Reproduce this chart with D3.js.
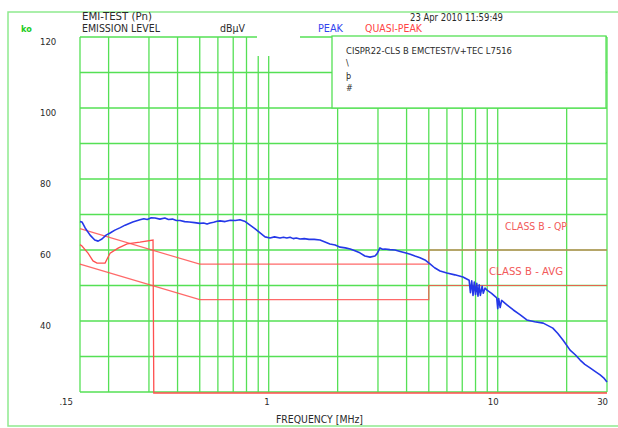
<!DOCTYPE html>
<html>
<head>
<meta charset="utf-8">
<script src="https://cdn.jsdelivr.net/npm/d3@7"></script>
<style>
  html, body { margin: 0; padding: 0; background: #fff; }
  svg { display: block; }
  text { font-family: 'Liberation Sans Narrow', 'DejaVu Sans Condensed', 'Liberation Sans', sans-serif; font-size: 10px; fill: #2a2a2a; }
</style>
</head>
<body>
<svg id="chart" width="618" height="428"></svg>
<script>
// Frequency axis (MHz) and level axis (dBµV)
const xTickValues = [0.15, 1, 10, 30];
const xTickLabels = [".15", "1", "10", "30"];
const yTickValues = [120, 100, 80, 60, 40];
const yTickLabels = ["120", "100", "80", "60", "40"];
const xGridValues = [0.2, 0.3, 0.4, 0.5, 0.6, 0.7, 0.8, 0.9, 1, 2, 3, 4, 5, 6, 7, 8, 9, 10, 20, 30];
const yGridValues = [20, 30, 40, 50, 60, 70, 80, 90, 100, 110, 120];

// Peak detector scan [MHz, dBµV]
const peakFreq = [0.150, 0.153, 0.158, 0.166, 0.174, 0.180, 0.187, 0.195, 0.203, 0.213, 0.225, 0.236, 0.255, 0.274, 0.285, 0.295, 0.307, 0.319, 0.335, 0.352, 0.365, 0.38, 0.395, 0.41, 0.43, 0.45, 0.475, 0.50, 0.52, 0.538, 0.555, 0.575, 0.595, 0.613, 0.645, 0.68, 0.715, 0.749, 0.79, 0.829, 0.87, 0.917, 0.964, 1.013, 1.06, 1.12, 1.16, 1.2, 1.24, 1.28, 1.32, 1.37, 1.43, 1.5, 1.58, 1.675, 1.75, 1.85, 1.95, 2.05, 2.16, 2.27, 2.38, 2.5, 2.63, 2.77, 2.91, 2.97, 3.06, 3.14, 3.22, 3.38, 3.56, 3.75, 3.94, 4.15, 4.35, 4.58, 4.81, 5.06, 5.3, 5.6, 6.0, 6.5, 7.05, 7.5, 7.6, 7.7, 7.8, 7.9, 8.0, 8.1, 8.2, 8.3, 8.4, 8.55, 8.65, 8.8, 8.98, 9.4, 9.9, 10.0, 10.1, 10.25, 10.4, 11.0, 11.7, 12.5, 13.4, 14.5, 15.8, 17.4, 18.3, 19.3, 20.7, 21.8, 22.9, 24.0, 25.3, 26.5, 28.0, 29.0, 30.0];
const peakLevel = [68.0, 67.9, 66.2, 64.2, 62.8, 62.5, 63.1, 64.2, 64.8, 65.6, 66.3, 67.0, 67.9, 68.5, 68.8, 68.6, 69.1, 69.0, 68.7, 69.0, 68.6, 68.7, 68.3, 68.3, 68.0, 67.9, 67.7, 67.5, 67.6, 67.3, 67.6, 67.8, 68.1, 68.2, 68.0, 68.4, 68.3, 68.5, 68.0, 67.0, 66.0, 64.8, 63.7, 63.4, 63.7, 63.4, 63.6, 63.4, 63.6, 63.2, 63.4, 63.1, 63.2, 63.0, 63.0, 62.8, 62.3, 61.7, 61.4, 60.8, 60.6, 60.3, 59.8, 59.2, 58.3, 58.0, 58.3, 58.9, 60.6, 60.2, 60.3, 60.1, 60.0, 59.6, 59.2, 58.8, 58.3, 57.8, 57.2, 56.1, 55.0, 54.1, 53.5, 53.0, 52.4, 51.5, 48.0, 51.3, 47.2, 51.0, 47.5, 50.6, 47.0, 50.2, 47.2, 49.8, 47.8, 49.3, 48.7, 47.8, 46.5, 43.5, 46.3, 43.8, 45.8, 44.5, 43.1, 41.8, 40.3, 39.8, 39.4, 38.0, 36.5, 34.6, 31.8, 30.5, 29.0, 27.8, 26.8, 25.9, 24.8, 24.0, 22.8];

// Quasi-peak measurements; below 20 dBµV is shown on the floor of the scale
const qpFreq = [0.150, 0.153, 0.1626, 0.171, 0.178, 0.193, 0.203, 0.22, 0.241, 0.274, 0.3126, 0.315, 30];
const qpLevel = [61.8, 61.4, 59.4, 57.2, 56.6, 56.6, 59.4, 60.8, 62.0, 62.5, 63.1, 20, 20];

// CISPR 22 class B limits
const qpLimitFreq = [0.15, 0.5, 5, 5, 30];
const qpLimitLevel = [66, 56, 56, 60, 60];
const avgLimitFreq = [0.15, 0.5, 5, 5, 30];
const avgLimitLevel = [56, 46, 46, 50, 50];

const svg = d3.select("#chart");
const x = d3.scaleLog().domain([0.15, 30]).range([80, 607]);
const y = d3.scaleLinear().domain([20, 120]).range([392, 37]);
const green = "#55e055";

// outer frame
svg.append("path").attr("d", "M620,12 H8 V426 H620")
  .attr("fill", "none").attr("stroke", "#8fea8f").attr("stroke-width", 1.5);

// grid
const grid = svg.append("g").attr("stroke", green).attr("stroke-width", 1.3);
grid.selectAll("line.h").data(yGridValues).join("line")
  .attr("x1", x(0.15)).attr("x2", x(30))
  .attr("y1", d => y(d)).attr("y2", d => y(d));
grid.selectAll("line.v").data([0.15].concat(xGridValues)).join("line")
  .attr("x1", d => x(d)).attr("x2", d => x(d))
  .attr("y1", y(120)).attr("y2", y(20));

// blank strip in the top frame line
svg.append("rect").attr("x", 257).attr("y", 30).attr("width", 43).attr("height", 26).attr("fill", "#fff");

// annotation box
svg.append("rect").attr("x", 332).attr("y", y(120) - 1).attr("width", 274).attr("height", y(100) - y(120) + 1)
  .attr("fill", "#fff").attr("stroke", green).attr("stroke-width", 1.3);
svg.append("text").attr("x", 346).attr("y", 54).attr("textLength", 166).attr("lengthAdjust", "spacingAndGlyphs")
  .style("font-size", "9px").text("CISPR22-CLS B EMCTEST/V+TEC L7516");
[["\\", 66], ["þ", 79], ["#", 91]].forEach(([t, yy]) =>
  svg.append("text").attr("x", 346).attr("y", yy).style("font-size", "9px").text(t));

// line generators
const line = (fs, vs) => d3.line().x((d, i) => x(fs[i])).y((d, i) => y(Math.max(20, vs[i])))(fs);

const red = "#ff4f4f";
svg.append("path").attr("d", line(qpLimitFreq, qpLimitLevel))
  .attr("fill", "none").attr("stroke", red).attr("stroke-width", 1.2).attr("stroke-opacity", 0.85);
svg.append("path").attr("d", line(avgLimitFreq, avgLimitLevel))
  .attr("fill", "none").attr("stroke", red).attr("stroke-width", 1.2).attr("stroke-opacity", 0.85);
svg.append("path").attr("d", line(qpFreq, qpLevel)).attr("transform", "translate(0,1)")
  .attr("fill", "none").attr("stroke", red).attr("stroke-width", 1.3);

svg.append("path").attr("d", line(peakFreq, peakLevel))
  .attr("fill", "none").attr("stroke", "#2438e8").attr("stroke-width", 1.6).attr("stroke-linejoin", "round");

// limit labels
svg.append("text").attr("x", 505).attr("y", 230).attr("textLength", 62).attr("lengthAdjust", "spacingAndGlyphs")
  .style("fill", "#f25a5a").text("CLASS B - QP");
svg.append("text").attr("x", 489).attr("y", 275).attr("textLength", 74).attr("lengthAdjust", "spacingAndGlyphs")
  .style("fill", "#f25a5a").text("CLASS B - AVG");

// level axis labels
svg.selectAll("text.ytick").data(yTickValues).join("text").attr("class", "ytick")
  .attr("x", 40).attr("y", d => y(d) + 8).style("font-size", "9.5px")
  .text((d, i) => yTickLabels[i]);

// frequency axis labels
svg.selectAll("text.xtick").data(xTickValues).join("text").attr("class", "xtick")
  .attr("x", d => x(d) + 1).attr("dx", (d, i) => i === 0 ? -8 : 0).attr("y", 405)
  .attr("text-anchor", "end").style("font-size", "9.5px")
  .text((d, i) => xTickLabels[i]);
svg.append("text").attr("x", 276).attr("y", 423).attr("textLength", 87).attr("lengthAdjust", "spacingAndGlyphs")
  .text("FREQUENCY [MHz]");

// header
svg.append("text").attr("x", 21).attr("y", 32).style("fill", "#22cc22").style("font-weight", "bold").style("font-size", "9px").text("ko");
svg.append("text").attr("x", 82).attr("y", 20).attr("textLength", 70).attr("lengthAdjust", "spacingAndGlyphs").text("EMI-TEST (Pn)");
svg.append("text").attr("x", 82).attr("y", 32).attr("textLength", 78).attr("lengthAdjust", "spacingAndGlyphs").text("EMISSION LEVEL");
svg.append("text").attr("x", 220).attr("y", 32).attr("textLength", 25).attr("lengthAdjust", "spacingAndGlyphs").text("dBµV");
svg.append("text").attr("x", 318).attr("y", 32).attr("textLength", 25).attr("lengthAdjust", "spacingAndGlyphs")
  .style("fill", "#3344ee").text("PEAK");
svg.append("text").attr("x", 365).attr("y", 32).attr("textLength", 57).attr("lengthAdjust", "spacingAndGlyphs")
  .style("fill", "#ff4444").text("QUASI-PEAK");
svg.append("text").attr("x", 410).attr("y", 21).attr("textLength", 93).attr("lengthAdjust", "spacingAndGlyphs").text("23 Apr 2010 11:59:49");
</script>
</body>
</html>
